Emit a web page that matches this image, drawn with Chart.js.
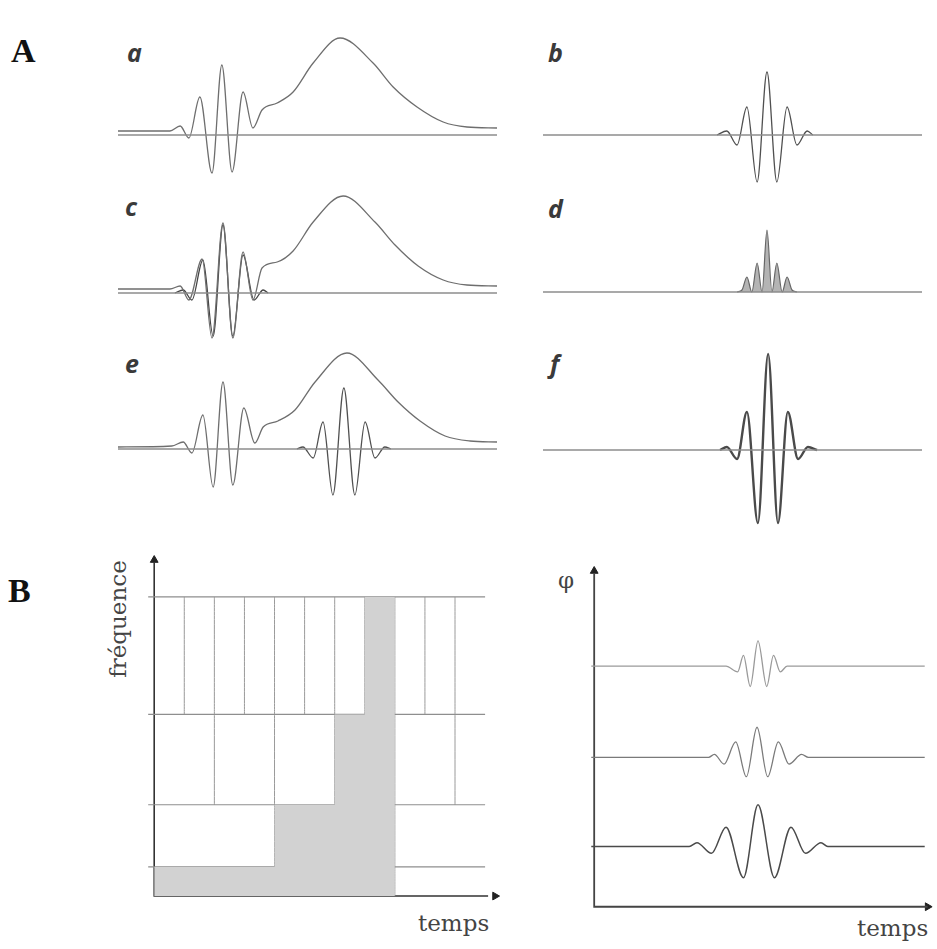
<!DOCTYPE html>
<html>
<head>
<meta charset="utf-8">
<script src="https://cdn.jsdelivr.net/npm/chart.js@4/dist/chart.umd.min.js"></script>
<style>
html, body { margin: 0; padding: 0; background: #fff; }
body { position: relative; width: 937px; height: 949px; overflow: hidden; }
canvas { position: absolute; }
.lbl { position: absolute; white-space: nowrap; line-height: 1; }
.big { font-family: "Liberation Serif", "Times New Roman", serif; font-weight: bold; font-size: 34px; color: #111; }
.sub { font-family: "Open Sans", "DejaVu Sans", sans-serif; font-style: italic; font-weight: bold; font-size: 25px; color: #3a3a3a; }
.ax  { font-family: "DejaVu Serif", serif; font-size: 23px; color: #444; }
</style>
</head>
<body>

<div class="lbl big" style="left:11px;top:34px">A</div>
<div class="lbl big" style="left:8px;top:574px">B</div>

<div class="lbl sub" style="left:127px;top:40px">a</div>
<div class="lbl sub" style="left:548px;top:40px">b</div>
<div class="lbl sub" style="left:125px;top:194px">c</div>
<div class="lbl sub" style="left:548px;top:196px">d</div>
<div class="lbl sub" style="left:125px;top:351px">e</div>
<div class="lbl sub" style="left:550px;top:351px">f</div>

<div class="lbl ax" style="left:118px;top:619px;transform:translate(-50%,-50%) rotate(-90deg)">fréquence</div>
<div class="lbl ax" style="left:418px;top:912px">temps</div>
<div class="lbl ax" style="left:566px;top:580px;transform:translate(-50%,-50%)">φ</div>
<div class="lbl ax" style="left:857px;top:917px">temps</div>

<canvas id="cA" width="379" height="200" style="left:118px;top:15px"></canvas>
<canvas id="cB" width="379" height="200" style="left:543px;top:15px"></canvas>
<canvas id="cC" width="379" height="200" style="left:118px;top:173px"></canvas>
<canvas id="cD" width="379" height="200" style="left:543px;top:172px"></canvas>
<canvas id="cE" width="379" height="200" style="left:118px;top:329px"></canvas>
<canvas id="cF" width="379" height="200" style="left:543px;top:330px"></canvas>
<canvas id="cTF" width="371" height="380" style="left:139px;top:540px"></canvas>
<canvas id="cPsi" width="358" height="370" style="left:579px;top:550px"></canvas>

<script>
// ── DATA: panel A (time 0..100, amplitude arbitrary units) ───────────────────
const sigTimeA = [0, 13.7, 16.4, 18.7, 21.6, 24.8, 27.4, 30.1, 33.0, 35.6, 38.0, 42.0, 46.2, 51.5, 58.6, 67.3, 72.6, 78.9, 85.8, 92.1, 100];
const sigAmpA  = [0.4, 0.4, 0.9, -0.3, 3.8, -3.8, 7.0, -3.7, 4.3, 0.7, 2.5, 3.2, 4.3, 7.2, 9.7, 7.2, 4.8, 2.8, 1.3, 0.8, 0.7];

const sigTimeC = [0, 13.7, 16.4, 18.7, 22.2, 24.8, 27.7, 30.3, 33.0, 35.6, 38.0, 42.0, 46.2, 51.5, 59.4, 67.8, 73.1, 79.2, 85.8, 92.1, 100];
const sigAmpC  = [0.4, 0.4, 0.7, -0.7, 3.4, -4.5, 7.0, -4.5, 4.1, -0.7, 2.5, 3.1, 4.2, 7.1, 9.7, 7.1, 4.8, 2.7, 1.3, 0.8, 0.7];
const wavTimeC = [15.0, 17.2, 19.5, 22.4, 25.1, 27.7, 30.3, 33.0, 35.9, 38.3, 39.6];
const wavAmpC  = [0, 0.3, -0.7, 3.3, -4.3, 6.8, -4.3, 3.8, -0.7, 0.3, 0];

const sigTimeE = [0, 14.2, 17.2, 19.5, 22.4, 25.1, 27.7, 30.3, 33.2, 36.1, 38.3, 42.2, 46.7, 52.0, 60.4, 68.6, 73.9, 79.7, 86.3, 92.9, 100];
const sigAmpE  = [0.2, 0.3, 0.7, -0.4, 3.4, -3.8, 6.7, -3.6, 4.1, 0.6, 2.2, 2.8, 3.9, 6.7, 9.6, 6.9, 4.7, 2.8, 1.3, 0.8, 0.7];
const wavTimeE = [47.2, 48.8, 51.5, 54.1, 56.7, 59.6, 62.5, 65.2, 67.8, 70.4, 72.0];
const wavAmpE  = [0, 0.2, -0.9, 2.7, -4.6, 6.1, -4.6, 2.7, -0.9, 0.2, 0];

const wavTimeB = [45.9, 48.5, 51.2, 53.8, 56.5, 59.1, 61.7, 64.4, 67.0, 69.7, 71.2];
const wavAmpB  = [0, 0.4, -1.0, 2.8, -4.7, 6.3, -4.7, 2.8, -1.0, 0.4, 0];

const prodTimeD = [51.2, 52.5, 53.8, 55.1, 56.5, 57.8, 59.1, 60.4, 61.7, 63.1, 64.4, 65.7, 67.0];
const prodAmpD  = [0, 0.2, 1.5, 0, 2.9, 0, 6.2, 0, 2.9, 0, 1.5, 0.2, 0];

const wavTimeF = [46.7, 48.5, 51.2, 53.8, 56.7, 59.4, 62.0, 64.6, 67.3, 69.9, 72.3];
const wavAmpF  = [0, 0.3, -0.9, 3.8, -7.3, 9.6, -7.3, 3.8, -0.9, 0.3, 0];

// ── DATA: panel B left (time-frequency tiling) ───────────────────────────────
const tfBandEdges = [0, 3, 9.4, 18.7, 30.8];          // frequency band limits
const tfBandCuts  = [[8], [4, 8], [2, 4, 6, 8, 10], [1, 2, 3, 4, 5, 6, 7, 8, 9, 10]];
const tfGrayX     = [0, 4, 6, 7, 8];                   // shaded stair: start of each step (time)
const tfGrayTop   = [3, 9.4, 18.7, 30.8];              // shaded stair: top of each step (frequency)

// ── DATA: panel B right (wavelets at three scales) ───────────────────────────
const psiLevels = [24.8, 15.4, 6.2];
const psiTime = [
    [13.6, 14.8, 15.4, 16.1, 16.9, 17.8, 18.5, 19.2, 19.9],
    [11.8, 12.4, 13.4, 14.6, 15.7, 16.8, 17.9, 19.0, 20.1, 21.4, 22.1],
    [9.8, 10.6, 12.1, 13.6, 15.4, 16.9, 18.6, 20.3, 21.8, 23.4, 24.1]
];
const psiAmp = [
    [0, -0.6, 1.1, -2.1, 2.6, -2.1, 1.1, -0.6, 0],
    [0, 0.3, -0.7, 1.6, -2.0, 3.1, -2.0, 1.6, -0.7, 0.3, 0],
    [0, 0.4, -0.7, 2.0, -3.2, 4.3, -3.2, 2.0, -0.7, 0.4, 0]
];
const psiColors = ['#9a9a9a', '#7a7a7a', '#4a4a4a'];

// ── HELPERS ──────────────────────────────────────────────────────────────────
function pts(xs, ys, off) {
    return xs.map((x, i) => ({ x: x, y: ys[i] + (off || 0) }));
}

function line(data, color, width, extra) {
    return Object.assign({
        data: data, showLine: true, borderColor: color, borderWidth: width,
        pointRadius: 0, cubicInterpolationMode: 'monotone', fill: false, clip: false
    }, extra || {});
}

function arrow(x, y, rot) {
    return { data: [{ x: x, y: y }], pointStyle: 'triangle', pointRadius: 4.5, pointRotation: rot,
        backgroundColor: '#222', borderColor: '#222', borderWidth: 1, clip: false };
}

function mini(id, datasets, xr, yr) {
    return new Chart(document.getElementById(id), {
        type: 'scatter',
        data: { datasets: datasets },
        options: {
            responsive: false, animation: false, events: [],
            layout: { padding: 0 },
            plugins: { legend: { display: false }, tooltip: { enabled: false } },
            scales: {
                x: { type: 'linear', min: xr[0], max: xr[1], display: false },
                y: { type: 'linear', min: yr[0], max: yr[1], display: false }
            }
        }
    });
}

const AX = [0, 100], AY = [-8, 12];
const axisA = () => line([{ x: 0, y: 0 }, { x: 100, y: 0 }], '#8c8c8c', 1.6);

// ── PANEL A ──────────────────────────────────────────────────────────────────
mini('cA', [axisA(), line(pts(sigTimeA, sigAmpA), '#6e6e6e', 1.3)], AX, AY);
mini('cB', [axisA(), line(pts(wavTimeB, wavAmpB), '#505050', 1.3)], AX, AY);
mini('cC', [axisA(), line(pts(sigTimeC, sigAmpC), '#6e6e6e', 1.3), line(pts(wavTimeC, wavAmpC), '#444', 1.3)], AX, AY);
mini('cD', [axisA(), line(pts(prodTimeD, prodAmpD), '#666', 1.2, { fill: 'origin', backgroundColor: '#b4b4b4' })], AX, AY);
mini('cE', [axisA(), line(pts(sigTimeE, sigAmpE), '#6e6e6e', 1.3), line(pts(wavTimeE, wavAmpE), '#505050', 1.3)], AX, AY);
mini('cF', [axisA(), line(pts(wavTimeF, wavAmpF), '#4a4a4a', 2.4)], AX, AY);

// ── PANEL B LEFT ─────────────────────────────────────────────────────────────
const stair = [];
tfGrayTop.forEach((top, i) => {
    stair.push({ x: tfGrayX[i], y: top }, { x: tfGrayX[i + 1], y: top });
});
const tfSets = [];
tfSets.push(line(stair, 'rgba(0,0,0,0)', 0,
    { fill: 'origin', backgroundColor: '#d2d2d2', cubicInterpolationMode: 'default', tension: 0 }));
tfBandEdges.slice(1).forEach(f => {
    tfSets.push(line([{ x: -0.2, y: f }, { x: 11.0, y: f }], '#8e8e8e', 1.2));
});
tfBandCuts.forEach((cuts, b) => {
    cuts.forEach(t => {
        tfSets.push(line([{ x: t, y: tfBandEdges[b] }, { x: t, y: tfBandEdges[b + 1] }], '#9a9a9a', 1));
    });
});
tfSets.push(line([{ x: 0, y: 34.4 }, { x: 0, y: 0 }, { x: 11.1, y: 0 }], '#333', 1.6, { cubicInterpolationMode: 'default' }));
tfSets.push(arrow(0, 34.6, 0));
tfSets.push(arrow(11.33, 0, 90));
mini('cTF', tfSets, [-10 / 31, 361 / 31], [-1.9, 36.1]);

// ── PANEL B RIGHT ────────────────────────────────────────────────────────────
const psiSets = [];
psiLevels.forEach((lv, i) => {
    const data = [{ x: -0.3, y: lv }].concat(pts(psiTime[i], psiAmp[i], lv), [{ x: 34.1, y: lv }]);
    psiSets.push(line(data, psiColors[i], i === 2 ? 1.5 : 1.3));
});
psiSets.push(line([{ x: 0, y: 34.3 }, { x: 0, y: 0 }, { x: 34.4, y: 0 }], '#444', 1.8, { cubicInterpolationMode: 'default' }));
psiSets.push(arrow(0, 34.6, 0));
psiSets.push(arrow(34.4, 0, 90));
mini('cPsi', psiSets, [-1, 34.8], [-0.8, 36.2]);
</script>
</body>
</html>
